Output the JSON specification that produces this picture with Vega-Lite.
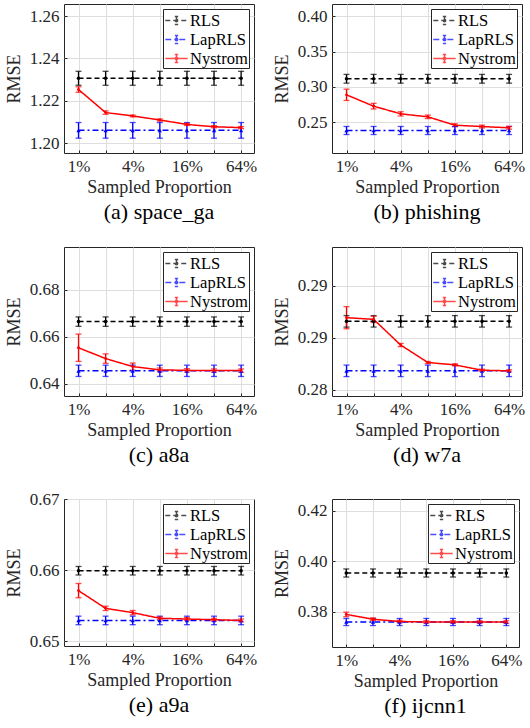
{
  "$schema": "https://vega.github.io/schema/vega-lite/v6.json",
  "padding": {"left": 4, "top": 3, "right": 4, "bottom": 2},
  "background": "white",
  "data": {"values": [
    {"panel":"a","method":"RLS","p":1,"rmse":1.2306,"lo":1.2273,"hi":1.2339},
    {"panel":"a","method":"RLS","p":2,"rmse":1.2306,"lo":1.2273,"hi":1.2339},
    {"panel":"a","method":"RLS","p":4,"rmse":1.2306,"lo":1.2273,"hi":1.2339},
    {"panel":"a","method":"RLS","p":8,"rmse":1.2306,"lo":1.2273,"hi":1.2339},
    {"panel":"a","method":"RLS","p":16,"rmse":1.2306,"lo":1.2273,"hi":1.2339},
    {"panel":"a","method":"RLS","p":32,"rmse":1.2306,"lo":1.2273,"hi":1.2339},
    {"panel":"a","method":"RLS","p":64,"rmse":1.2306,"lo":1.2273,"hi":1.2339},
    {"panel":"a","method":"LapRLS","p":1,"rmse":1.2060,"lo":1.2023,"hi":1.2097},
    {"panel":"a","method":"LapRLS","p":2,"rmse":1.2060,"lo":1.2023,"hi":1.2097},
    {"panel":"a","method":"LapRLS","p":4,"rmse":1.2060,"lo":1.2023,"hi":1.2097},
    {"panel":"a","method":"LapRLS","p":8,"rmse":1.2060,"lo":1.2023,"hi":1.2097},
    {"panel":"a","method":"LapRLS","p":16,"rmse":1.2060,"lo":1.2023,"hi":1.2097},
    {"panel":"a","method":"LapRLS","p":32,"rmse":1.2060,"lo":1.2023,"hi":1.2097},
    {"panel":"a","method":"LapRLS","p":64,"rmse":1.2060,"lo":1.2023,"hi":1.2097},
    {"panel":"a","method":"Nystrom","p":1,"rmse":1.2253,"lo":1.2240,"hi":1.2266},
    {"panel":"a","method":"Nystrom","p":2,"rmse":1.2144,"lo":1.2136,"hi":1.2152},
    {"panel":"a","method":"Nystrom","p":4,"rmse":1.2128,"lo":1.2124,"hi":1.2132},
    {"panel":"a","method":"Nystrom","p":8,"rmse":1.2109,"lo":1.2104,"hi":1.2114},
    {"panel":"a","method":"Nystrom","p":16,"rmse":1.2088,"lo":1.2083,"hi":1.2093},
    {"panel":"a","method":"Nystrom","p":32,"rmse":1.2077,"lo":1.2072,"hi":1.2082},
    {"panel":"a","method":"Nystrom","p":64,"rmse":1.2073,"lo":1.2068,"hi":1.2078},

    {"panel":"b","method":"RLS","p":1,"rmse":0.3115,"lo":0.3053,"hi":0.3177},
    {"panel":"b","method":"RLS","p":2,"rmse":0.3115,"lo":0.3053,"hi":0.3177},
    {"panel":"b","method":"RLS","p":4,"rmse":0.3115,"lo":0.3053,"hi":0.3177},
    {"panel":"b","method":"RLS","p":8,"rmse":0.3115,"lo":0.3053,"hi":0.3177},
    {"panel":"b","method":"RLS","p":16,"rmse":0.3115,"lo":0.3053,"hi":0.3177},
    {"panel":"b","method":"RLS","p":32,"rmse":0.3115,"lo":0.3053,"hi":0.3177},
    {"panel":"b","method":"RLS","p":64,"rmse":0.3115,"lo":0.3053,"hi":0.3177},
    {"panel":"b","method":"LapRLS","p":1,"rmse":0.2382,"lo":0.2325,"hi":0.2439},
    {"panel":"b","method":"LapRLS","p":2,"rmse":0.2382,"lo":0.2325,"hi":0.2439},
    {"panel":"b","method":"LapRLS","p":4,"rmse":0.2382,"lo":0.2325,"hi":0.2439},
    {"panel":"b","method":"LapRLS","p":8,"rmse":0.2382,"lo":0.2325,"hi":0.2439},
    {"panel":"b","method":"LapRLS","p":16,"rmse":0.2382,"lo":0.2325,"hi":0.2439},
    {"panel":"b","method":"LapRLS","p":32,"rmse":0.2382,"lo":0.2325,"hi":0.2439},
    {"panel":"b","method":"LapRLS","p":64,"rmse":0.2382,"lo":0.2325,"hi":0.2439},
    {"panel":"b","method":"Nystrom","p":1,"rmse":0.2888,"lo":0.2808,"hi":0.2968},
    {"panel":"b","method":"Nystrom","p":2,"rmse":0.2727,"lo":0.2687,"hi":0.2767},
    {"panel":"b","method":"Nystrom","p":4,"rmse":0.2618,"lo":0.2588,"hi":0.2648},
    {"panel":"b","method":"Nystrom","p":8,"rmse":0.2576,"lo":0.2551,"hi":0.2601},
    {"panel":"b","method":"Nystrom","p":16,"rmse":0.2457,"lo":0.2437,"hi":0.2477},
    {"panel":"b","method":"Nystrom","p":32,"rmse":0.2438,"lo":0.2418,"hi":0.2458},
    {"panel":"b","method":"Nystrom","p":64,"rmse":0.2420,"lo":0.2400,"hi":0.2440},

    {"panel":"c","method":"RLS","p":1,"rmse":0.6665,"lo":0.6645,"hi":0.6685},
    {"panel":"c","method":"RLS","p":2,"rmse":0.6665,"lo":0.6645,"hi":0.6685},
    {"panel":"c","method":"RLS","p":4,"rmse":0.6665,"lo":0.6645,"hi":0.6685},
    {"panel":"c","method":"RLS","p":8,"rmse":0.6665,"lo":0.6645,"hi":0.6685},
    {"panel":"c","method":"RLS","p":16,"rmse":0.6665,"lo":0.6645,"hi":0.6685},
    {"panel":"c","method":"RLS","p":32,"rmse":0.6665,"lo":0.6645,"hi":0.6685},
    {"panel":"c","method":"RLS","p":64,"rmse":0.6665,"lo":0.6645,"hi":0.6685},
    {"panel":"c","method":"LapRLS","p":1,"rmse":0.6456,"lo":0.6432,"hi":0.6480},
    {"panel":"c","method":"LapRLS","p":2,"rmse":0.6456,"lo":0.6432,"hi":0.6480},
    {"panel":"c","method":"LapRLS","p":4,"rmse":0.6456,"lo":0.6432,"hi":0.6480},
    {"panel":"c","method":"LapRLS","p":8,"rmse":0.6456,"lo":0.6432,"hi":0.6480},
    {"panel":"c","method":"LapRLS","p":16,"rmse":0.6456,"lo":0.6432,"hi":0.6480},
    {"panel":"c","method":"LapRLS","p":32,"rmse":0.6456,"lo":0.6432,"hi":0.6480},
    {"panel":"c","method":"LapRLS","p":64,"rmse":0.6456,"lo":0.6432,"hi":0.6480},
    {"panel":"c","method":"Nystrom","p":1,"rmse":0.6554,"lo":0.6496,"hi":0.6612},
    {"panel":"c","method":"Nystrom","p":2,"rmse":0.6508,"lo":0.6488,"hi":0.6528},
    {"panel":"c","method":"Nystrom","p":4,"rmse":0.6474,"lo":0.6459,"hi":0.6489},
    {"panel":"c","method":"Nystrom","p":8,"rmse":0.6460,"lo":0.6452,"hi":0.6468},
    {"panel":"c","method":"Nystrom","p":16,"rmse":0.6458,"lo":0.6451,"hi":0.6465},
    {"panel":"c","method":"Nystrom","p":32,"rmse":0.6457,"lo":0.6450,"hi":0.6464},
    {"panel":"c","method":"Nystrom","p":64,"rmse":0.6457,"lo":0.6450,"hi":0.6464},

    {"panel":"d","method":"RLS","p":1,"rmse":0.28657,"lo":0.28602,"hi":0.28712},
    {"panel":"d","method":"RLS","p":2,"rmse":0.28657,"lo":0.28602,"hi":0.28712},
    {"panel":"d","method":"RLS","p":4,"rmse":0.28657,"lo":0.28602,"hi":0.28712},
    {"panel":"d","method":"RLS","p":8,"rmse":0.28657,"lo":0.28602,"hi":0.28712},
    {"panel":"d","method":"RLS","p":16,"rmse":0.28657,"lo":0.28602,"hi":0.28712},
    {"panel":"d","method":"RLS","p":32,"rmse":0.28657,"lo":0.28602,"hi":0.28712},
    {"panel":"d","method":"RLS","p":64,"rmse":0.28657,"lo":0.28602,"hi":0.28712},
    {"panel":"d","method":"LapRLS","p":1,"rmse":0.28183,"lo":0.28128,"hi":0.28238},
    {"panel":"d","method":"LapRLS","p":2,"rmse":0.28183,"lo":0.28128,"hi":0.28238},
    {"panel":"d","method":"LapRLS","p":4,"rmse":0.28183,"lo":0.28128,"hi":0.28238},
    {"panel":"d","method":"LapRLS","p":8,"rmse":0.28183,"lo":0.28128,"hi":0.28238},
    {"panel":"d","method":"LapRLS","p":16,"rmse":0.28183,"lo":0.28128,"hi":0.28238},
    {"panel":"d","method":"LapRLS","p":32,"rmse":0.28183,"lo":0.28128,"hi":0.28238},
    {"panel":"d","method":"LapRLS","p":64,"rmse":0.28183,"lo":0.28128,"hi":0.28238},
    {"panel":"d","method":"Nystrom","p":1,"rmse":0.28692,"lo":0.28586,"hi":0.28798},
    {"panel":"d","method":"Nystrom","p":2,"rmse":0.28676,"lo":0.28646,"hi":0.28706},
    {"panel":"d","method":"Nystrom","p":4,"rmse":0.28430,"lo":0.28415,"hi":0.28445},
    {"panel":"d","method":"Nystrom","p":8,"rmse":0.28263,"lo":0.28253,"hi":0.28273},
    {"panel":"d","method":"Nystrom","p":16,"rmse":0.28240,"lo":0.28230,"hi":0.28250},
    {"panel":"d","method":"Nystrom","p":32,"rmse":0.28189,"lo":0.28179,"hi":0.28199},
    {"panel":"d","method":"Nystrom","p":64,"rmse":0.28183,"lo":0.28173,"hi":0.28193},

    {"panel":"e","method":"RLS","p":1,"rmse":0.6599,"lo":0.6593,"hi":0.6605},
    {"panel":"e","method":"RLS","p":2,"rmse":0.6599,"lo":0.6593,"hi":0.6605},
    {"panel":"e","method":"RLS","p":4,"rmse":0.6599,"lo":0.6593,"hi":0.6605},
    {"panel":"e","method":"RLS","p":8,"rmse":0.6599,"lo":0.6593,"hi":0.6605},
    {"panel":"e","method":"RLS","p":16,"rmse":0.6599,"lo":0.6593,"hi":0.6605},
    {"panel":"e","method":"RLS","p":32,"rmse":0.6599,"lo":0.6593,"hi":0.6605},
    {"panel":"e","method":"RLS","p":64,"rmse":0.6599,"lo":0.6593,"hi":0.6605},
    {"panel":"e","method":"LapRLS","p":1,"rmse":0.6529,"lo":0.6523,"hi":0.6535},
    {"panel":"e","method":"LapRLS","p":2,"rmse":0.6529,"lo":0.6523,"hi":0.6535},
    {"panel":"e","method":"LapRLS","p":4,"rmse":0.6529,"lo":0.6523,"hi":0.6535},
    {"panel":"e","method":"LapRLS","p":8,"rmse":0.6529,"lo":0.6523,"hi":0.6535},
    {"panel":"e","method":"LapRLS","p":16,"rmse":0.6529,"lo":0.6523,"hi":0.6535},
    {"panel":"e","method":"LapRLS","p":32,"rmse":0.6529,"lo":0.6523,"hi":0.6535},
    {"panel":"e","method":"LapRLS","p":64,"rmse":0.6529,"lo":0.6523,"hi":0.6535},
    {"panel":"e","method":"Nystrom","p":1,"rmse":0.6571,"lo":0.6561,"hi":0.6581},
    {"panel":"e","method":"Nystrom","p":2,"rmse":0.6546,"lo":0.6543,"hi":0.6549},
    {"panel":"e","method":"Nystrom","p":4,"rmse":0.6540,"lo":0.6537,"hi":0.6543},
    {"panel":"e","method":"Nystrom","p":8,"rmse":0.6532,"lo":0.6530,"hi":0.6534},
    {"panel":"e","method":"Nystrom","p":16,"rmse":0.6531,"lo":0.6529,"hi":0.6533},
    {"panel":"e","method":"Nystrom","p":32,"rmse":0.6530,"lo":0.6528,"hi":0.6532},
    {"panel":"e","method":"Nystrom","p":64,"rmse":0.6529,"lo":0.6527,"hi":0.6531},

    {"panel":"f","method":"RLS","p":1,"rmse":0.3953,"lo":0.3937,"hi":0.3969},
    {"panel":"f","method":"RLS","p":2,"rmse":0.3953,"lo":0.3937,"hi":0.3969},
    {"panel":"f","method":"RLS","p":4,"rmse":0.3953,"lo":0.3937,"hi":0.3969},
    {"panel":"f","method":"RLS","p":8,"rmse":0.3953,"lo":0.3937,"hi":0.3969},
    {"panel":"f","method":"RLS","p":16,"rmse":0.3953,"lo":0.3937,"hi":0.3969},
    {"panel":"f","method":"RLS","p":32,"rmse":0.3953,"lo":0.3937,"hi":0.3969},
    {"panel":"f","method":"RLS","p":64,"rmse":0.3953,"lo":0.3937,"hi":0.3969},
    {"panel":"f","method":"LapRLS","p":1,"rmse":0.3759,"lo":0.3745,"hi":0.3773},
    {"panel":"f","method":"LapRLS","p":2,"rmse":0.3759,"lo":0.3745,"hi":0.3773},
    {"panel":"f","method":"LapRLS","p":4,"rmse":0.3759,"lo":0.3745,"hi":0.3773},
    {"panel":"f","method":"LapRLS","p":8,"rmse":0.3759,"lo":0.3745,"hi":0.3773},
    {"panel":"f","method":"LapRLS","p":16,"rmse":0.3759,"lo":0.3745,"hi":0.3773},
    {"panel":"f","method":"LapRLS","p":32,"rmse":0.3759,"lo":0.3745,"hi":0.3773},
    {"panel":"f","method":"LapRLS","p":64,"rmse":0.3759,"lo":0.3745,"hi":0.3773},
    {"panel":"f","method":"Nystrom","p":1,"rmse":0.3789,"lo":0.3780,"hi":0.3798},
    {"panel":"f","method":"Nystrom","p":2,"rmse":0.3770,"lo":0.3765,"hi":0.3775},
    {"panel":"f","method":"Nystrom","p":4,"rmse":0.3761,"lo":0.3756,"hi":0.3766},
    {"panel":"f","method":"Nystrom","p":8,"rmse":0.3759,"lo":0.3754,"hi":0.3764},
    {"panel":"f","method":"Nystrom","p":16,"rmse":0.3759,"lo":0.3754,"hi":0.3764},
    {"panel":"f","method":"Nystrom","p":32,"rmse":0.3759,"lo":0.3754,"hi":0.3764},
    {"panel":"f","method":"Nystrom","p":64,"rmse":0.3759,"lo":0.3754,"hi":0.3764}
  ]},
  "columns": 2,
  "spacing": {"row": 22, "column": 14},
  "resolve": {
    "scale": {"x": "independent", "y": "independent", "color": "independent", "fill": "independent", "strokeDash": "independent", "shape": "independent", "size": "independent"},
    "legend": {"color": "independent", "fill": "independent", "strokeDash": "independent", "shape": "independent", "size": "independent"},
    "axis": {"x": "independent", "y": "independent"}
  },
  "concat": [
    {
      "width": 190, "height": 149,
      "title": {"text": "(a)  space_ga"},
      "transform": [{"filter": "datum.panel === 'a'"}],
      "layer": [
        {"mark": {"type": "rule", "strokeWidth": 1.3},
         "encoding": {
           "x": {"field": "p", "type": "quantitative", "scale": {"type": "log", "base": 2, "domain": [0.69, 89], "nice": false}, "axis": {"title": "Sampled Proportion", "values": [1,2,4,8,16,32,64], "labelExpr": "indexof([1,4,16,64], datum.value) >= 0 ? datum.value + '%' : ''"}},
           "y": {"field": "lo", "type": "quantitative", "scale": {"domain": [1.1953, 1.2657], "nice": false, "zero": false}, "axis": {"title": "RMSE", "values": [1.20,1.22,1.24,1.26], "format": ".2f"}},
           "y2": {"field": "hi"},
           "color": {"field": "method", "type": "nominal", "scale": {"domain": ["RLS","LapRLS","Nystrom"], "range": ["#000000","#0000ff","#ff0000"]}}}},
        {"mark": {"type": "tick", "orient": "horizontal", "size": 6, "thickness": 1.3},
         "encoding": {
           "x": {"field": "p", "type": "quantitative", "scale": {"type": "log", "base": 2, "domain": [0.69, 89], "nice": false}},
           "y": {"field": "lo", "type": "quantitative", "scale": {"domain": [1.1953, 1.2657], "nice": false, "zero": false}},
           "color": {"field": "method", "type": "nominal", "scale": {"domain": ["RLS","LapRLS","Nystrom"], "range": ["#000000","#0000ff","#ff0000"]}}}},
        {"mark": {"type": "tick", "orient": "horizontal", "size": 6, "thickness": 1.3},
         "encoding": {
           "x": {"field": "p", "type": "quantitative", "scale": {"type": "log", "base": 2, "domain": [0.69, 89], "nice": false}},
           "y": {"field": "hi", "type": "quantitative", "scale": {"domain": [1.1953, 1.2657], "nice": false, "zero": false}},
           "color": {"field": "method", "type": "nominal", "scale": {"domain": ["RLS","LapRLS","Nystrom"], "range": ["#000000","#0000ff","#ff0000"]}}}},
        {"mark": {"type": "line", "strokeWidth": 1.5},
         "encoding": {
           "x": {"field": "p", "type": "quantitative", "scale": {"type": "log", "base": 2, "domain": [0.69, 89], "nice": false}},
           "y": {"field": "rmse", "type": "quantitative", "scale": {"domain": [1.1953, 1.2657], "nice": false, "zero": false}},
           "color": {"field": "method", "type": "nominal", "scale": {"domain": ["RLS","LapRLS","Nystrom"], "range": ["#000000","#0000ff","#ff0000"]}, "legend": {"title": null, "symbolType": "M-1.15,0H1.15M0,-0.42V0.42M-0.17,-0.42H0.17M-0.17,0.42H0.17M-0.12,0A0.12,0.12 0 1,0 0.12,0A0.12,0.12 0 1,0 -0.12,0"}},
           "strokeDash": {"field": "method", "type": "nominal", "scale": {"domain": ["RLS","LapRLS","Nystrom"], "range": [[5,3],[6,3,2,3],[1,0]]}, "legend": {"title": null, "symbolType": "M-1.15,0H1.15M0,-0.42V0.42M-0.17,-0.42H0.17M-0.17,0.42H0.17M-0.12,0A0.12,0.12 0 1,0 0.12,0A0.12,0.12 0 1,0 -0.12,0"}}}},
        {"mark": {"type": "point", "filled": true, "opacity": 1, "strokeWidth": 0},
         "encoding": {
           "x": {"field": "p", "type": "quantitative", "scale": {"type": "log", "base": 2, "domain": [0.69, 89], "nice": false}},
           "y": {"field": "rmse", "type": "quantitative", "scale": {"domain": [1.1953, 1.2657], "nice": false, "zero": false}},
           "fill": {"field": "method", "type": "nominal", "scale": {"domain": ["Nystrom","LapRLS","RLS"], "range": ["#ff0000","#0000ff","#000000"]}, "legend": null},
           "shape": {"field": "method", "type": "nominal", "scale": {"domain": ["LapRLS","RLS","Nystrom"], "range": ["triangle-up","circle","circle"]}, "legend": null},
           "size": {"field": "method", "type": "nominal", "scale": {"domain": ["Nystrom","RLS","LapRLS"], "range": [8, 18, 22]}, "legend": null}}}
      ]
    },
    {
      "width": 190, "height": 149,
      "title": {"text": "(b)  phishing"},
      "transform": [{"filter": "datum.panel === 'b'"}],
      "layer": [
        {"mark": {"type": "rule", "strokeWidth": 1.3},
         "encoding": {
           "x": {"field": "p", "type": "quantitative", "scale": {"type": "log", "base": 2, "domain": [0.69, 89], "nice": false}, "axis": {"title": "Sampled Proportion", "values": [1,2,4,8,16,32,64], "labelExpr": "indexof([1,4,16,64], datum.value) >= 0 ? datum.value + '%' : ''"}},
           "y": {"field": "lo", "type": "quantitative", "scale": {"domain": [0.2063, 0.4175], "nice": false, "zero": false}, "axis": {"title": "RMSE", "values": [0.25,0.30,0.35,0.40], "format": ".2f"}},
           "y2": {"field": "hi"},
           "color": {"field": "method", "type": "nominal", "scale": {"domain": ["RLS","LapRLS","Nystrom"], "range": ["#000000","#0000ff","#ff0000"]}}}},
        {"mark": {"type": "tick", "orient": "horizontal", "size": 6, "thickness": 1.3},
         "encoding": {
           "x": {"field": "p", "type": "quantitative", "scale": {"type": "log", "base": 2, "domain": [0.69, 89], "nice": false}},
           "y": {"field": "lo", "type": "quantitative", "scale": {"domain": [0.2063, 0.4175], "nice": false, "zero": false}},
           "color": {"field": "method", "type": "nominal", "scale": {"domain": ["RLS","LapRLS","Nystrom"], "range": ["#000000","#0000ff","#ff0000"]}}}},
        {"mark": {"type": "tick", "orient": "horizontal", "size": 6, "thickness": 1.3},
         "encoding": {
           "x": {"field": "p", "type": "quantitative", "scale": {"type": "log", "base": 2, "domain": [0.69, 89], "nice": false}},
           "y": {"field": "hi", "type": "quantitative", "scale": {"domain": [0.2063, 0.4175], "nice": false, "zero": false}},
           "color": {"field": "method", "type": "nominal", "scale": {"domain": ["RLS","LapRLS","Nystrom"], "range": ["#000000","#0000ff","#ff0000"]}}}},
        {"mark": {"type": "line", "strokeWidth": 1.5},
         "encoding": {
           "x": {"field": "p", "type": "quantitative", "scale": {"type": "log", "base": 2, "domain": [0.69, 89], "nice": false}},
           "y": {"field": "rmse", "type": "quantitative", "scale": {"domain": [0.2063, 0.4175], "nice": false, "zero": false}},
           "color": {"field": "method", "type": "nominal", "scale": {"domain": ["RLS","LapRLS","Nystrom"], "range": ["#000000","#0000ff","#ff0000"]}, "legend": {"title": null, "symbolType": "M-1.15,0H1.15M0,-0.42V0.42M-0.17,-0.42H0.17M-0.17,0.42H0.17M-0.12,0A0.12,0.12 0 1,0 0.12,0A0.12,0.12 0 1,0 -0.12,0"}},
           "strokeDash": {"field": "method", "type": "nominal", "scale": {"domain": ["RLS","LapRLS","Nystrom"], "range": [[5,3],[6,3,2,3],[1,0]]}, "legend": {"title": null, "symbolType": "M-1.15,0H1.15M0,-0.42V0.42M-0.17,-0.42H0.17M-0.17,0.42H0.17M-0.12,0A0.12,0.12 0 1,0 0.12,0A0.12,0.12 0 1,0 -0.12,0"}}}},
        {"mark": {"type": "point", "filled": true, "opacity": 1, "strokeWidth": 0},
         "encoding": {
           "x": {"field": "p", "type": "quantitative", "scale": {"type": "log", "base": 2, "domain": [0.69, 89], "nice": false}},
           "y": {"field": "rmse", "type": "quantitative", "scale": {"domain": [0.2063, 0.4175], "nice": false, "zero": false}},
           "fill": {"field": "method", "type": "nominal", "scale": {"domain": ["Nystrom","LapRLS","RLS"], "range": ["#ff0000","#0000ff","#000000"]}, "legend": null},
           "shape": {"field": "method", "type": "nominal", "scale": {"domain": ["LapRLS","RLS","Nystrom"], "range": ["triangle-up","circle","circle"]}, "legend": null},
           "size": {"field": "method", "type": "nominal", "scale": {"domain": ["Nystrom","RLS","LapRLS"], "range": [8, 18, 22]}, "legend": null}}}
      ]
    },
    {
      "width": 190, "height": 149,
      "title": {"text": "(c)  a8a"},
      "transform": [{"filter": "datum.panel === 'c'"}],
      "layer": [
        {"mark": {"type": "rule", "strokeWidth": 1.3},
         "encoding": {
           "x": {"field": "p", "type": "quantitative", "scale": {"type": "log", "base": 2, "domain": [0.69, 89], "nice": false}, "axis": {"title": "Sampled Proportion", "values": [1,2,4,8,16,32,64], "labelExpr": "indexof([1,4,16,64], datum.value) >= 0 ? datum.value + '%' : ''"}},
           "y": {"field": "lo", "type": "quantitative", "scale": {"domain": [0.6349, 0.6982], "nice": false, "zero": false}, "axis": {"title": "RMSE", "values": [0.64,0.66,0.68], "format": ".2f"}},
           "y2": {"field": "hi"},
           "color": {"field": "method", "type": "nominal", "scale": {"domain": ["RLS","LapRLS","Nystrom"], "range": ["#000000","#0000ff","#ff0000"]}}}},
        {"mark": {"type": "tick", "orient": "horizontal", "size": 6, "thickness": 1.3},
         "encoding": {
           "x": {"field": "p", "type": "quantitative", "scale": {"type": "log", "base": 2, "domain": [0.69, 89], "nice": false}},
           "y": {"field": "lo", "type": "quantitative", "scale": {"domain": [0.6349, 0.6982], "nice": false, "zero": false}},
           "color": {"field": "method", "type": "nominal", "scale": {"domain": ["RLS","LapRLS","Nystrom"], "range": ["#000000","#0000ff","#ff0000"]}}}},
        {"mark": {"type": "tick", "orient": "horizontal", "size": 6, "thickness": 1.3},
         "encoding": {
           "x": {"field": "p", "type": "quantitative", "scale": {"type": "log", "base": 2, "domain": [0.69, 89], "nice": false}},
           "y": {"field": "hi", "type": "quantitative", "scale": {"domain": [0.6349, 0.6982], "nice": false, "zero": false}},
           "color": {"field": "method", "type": "nominal", "scale": {"domain": ["RLS","LapRLS","Nystrom"], "range": ["#000000","#0000ff","#ff0000"]}}}},
        {"mark": {"type": "line", "strokeWidth": 1.5},
         "encoding": {
           "x": {"field": "p", "type": "quantitative", "scale": {"type": "log", "base": 2, "domain": [0.69, 89], "nice": false}},
           "y": {"field": "rmse", "type": "quantitative", "scale": {"domain": [0.6349, 0.6982], "nice": false, "zero": false}},
           "color": {"field": "method", "type": "nominal", "scale": {"domain": ["RLS","LapRLS","Nystrom"], "range": ["#000000","#0000ff","#ff0000"]}, "legend": {"title": null, "symbolType": "M-1.15,0H1.15M0,-0.42V0.42M-0.17,-0.42H0.17M-0.17,0.42H0.17M-0.12,0A0.12,0.12 0 1,0 0.12,0A0.12,0.12 0 1,0 -0.12,0"}},
           "strokeDash": {"field": "method", "type": "nominal", "scale": {"domain": ["RLS","LapRLS","Nystrom"], "range": [[5,3],[6,3,2,3],[1,0]]}, "legend": {"title": null, "symbolType": "M-1.15,0H1.15M0,-0.42V0.42M-0.17,-0.42H0.17M-0.17,0.42H0.17M-0.12,0A0.12,0.12 0 1,0 0.12,0A0.12,0.12 0 1,0 -0.12,0"}}}},
        {"mark": {"type": "point", "filled": true, "opacity": 1, "strokeWidth": 0},
         "encoding": {
           "x": {"field": "p", "type": "quantitative", "scale": {"type": "log", "base": 2, "domain": [0.69, 89], "nice": false}},
           "y": {"field": "rmse", "type": "quantitative", "scale": {"domain": [0.6349, 0.6982], "nice": false, "zero": false}},
           "fill": {"field": "method", "type": "nominal", "scale": {"domain": ["Nystrom","LapRLS","RLS"], "range": ["#ff0000","#0000ff","#000000"]}, "legend": null},
           "shape": {"field": "method", "type": "nominal", "scale": {"domain": ["LapRLS","RLS","Nystrom"], "range": ["triangle-up","circle","circle"]}, "legend": null},
           "size": {"field": "method", "type": "nominal", "scale": {"domain": ["Nystrom","RLS","LapRLS"], "range": [8, 18, 22]}, "legend": null}}}
      ]
    },
    {
      "width": 190, "height": 149,
      "title": {"text": "(d)  w7a"},
      "transform": [{"filter": "datum.panel === 'd'"}],
      "layer": [
        {"mark": {"type": "rule", "strokeWidth": 1.3},
         "encoding": {
           "x": {"field": "p", "type": "quantitative", "scale": {"type": "log", "base": 2, "domain": [0.69, 89], "nice": false}, "axis": {"title": "Sampled Proportion", "values": [1,2,4,8,16,32,64], "labelExpr": "indexof([1,4,16,64], datum.value) >= 0 ? datum.value + '%' : ''"}},
           "y": {"field": "lo", "type": "quantitative", "scale": {"domain": [0.27942, 0.29369], "nice": false, "zero": false}, "axis": {"title": "RMSE", "values": [0.28,0.285,0.29], "labelExpr": "format(datum.value + 0.000001, '.2f')"}},
           "y2": {"field": "hi"},
           "color": {"field": "method", "type": "nominal", "scale": {"domain": ["RLS","LapRLS","Nystrom"], "range": ["#000000","#0000ff","#ff0000"]}}}},
        {"mark": {"type": "tick", "orient": "horizontal", "size": 6, "thickness": 1.3},
         "encoding": {
           "x": {"field": "p", "type": "quantitative", "scale": {"type": "log", "base": 2, "domain": [0.69, 89], "nice": false}},
           "y": {"field": "lo", "type": "quantitative", "scale": {"domain": [0.27942, 0.29369], "nice": false, "zero": false}},
           "color": {"field": "method", "type": "nominal", "scale": {"domain": ["RLS","LapRLS","Nystrom"], "range": ["#000000","#0000ff","#ff0000"]}}}},
        {"mark": {"type": "tick", "orient": "horizontal", "size": 6, "thickness": 1.3},
         "encoding": {
           "x": {"field": "p", "type": "quantitative", "scale": {"type": "log", "base": 2, "domain": [0.69, 89], "nice": false}},
           "y": {"field": "hi", "type": "quantitative", "scale": {"domain": [0.27942, 0.29369], "nice": false, "zero": false}},
           "color": {"field": "method", "type": "nominal", "scale": {"domain": ["RLS","LapRLS","Nystrom"], "range": ["#000000","#0000ff","#ff0000"]}}}},
        {"mark": {"type": "line", "strokeWidth": 1.5},
         "encoding": {
           "x": {"field": "p", "type": "quantitative", "scale": {"type": "log", "base": 2, "domain": [0.69, 89], "nice": false}},
           "y": {"field": "rmse", "type": "quantitative", "scale": {"domain": [0.27942, 0.29369], "nice": false, "zero": false}},
           "color": {"field": "method", "type": "nominal", "scale": {"domain": ["RLS","LapRLS","Nystrom"], "range": ["#000000","#0000ff","#ff0000"]}, "legend": {"title": null, "symbolType": "M-1.15,0H1.15M0,-0.42V0.42M-0.17,-0.42H0.17M-0.17,0.42H0.17M-0.12,0A0.12,0.12 0 1,0 0.12,0A0.12,0.12 0 1,0 -0.12,0"}},
           "strokeDash": {"field": "method", "type": "nominal", "scale": {"domain": ["RLS","LapRLS","Nystrom"], "range": [[5,3],[6,3,2,3],[1,0]]}, "legend": {"title": null, "symbolType": "M-1.15,0H1.15M0,-0.42V0.42M-0.17,-0.42H0.17M-0.17,0.42H0.17M-0.12,0A0.12,0.12 0 1,0 0.12,0A0.12,0.12 0 1,0 -0.12,0"}}}},
        {"mark": {"type": "point", "filled": true, "opacity": 1, "strokeWidth": 0},
         "encoding": {
           "x": {"field": "p", "type": "quantitative", "scale": {"type": "log", "base": 2, "domain": [0.69, 89], "nice": false}},
           "y": {"field": "rmse", "type": "quantitative", "scale": {"domain": [0.27942, 0.29369], "nice": false, "zero": false}},
           "fill": {"field": "method", "type": "nominal", "scale": {"domain": ["Nystrom","LapRLS","RLS"], "range": ["#ff0000","#0000ff","#000000"]}, "legend": null},
           "shape": {"field": "method", "type": "nominal", "scale": {"domain": ["LapRLS","RLS","Nystrom"], "range": ["triangle-up","circle","circle"]}, "legend": null},
           "size": {"field": "method", "type": "nominal", "scale": {"domain": ["Nystrom","RLS","LapRLS"], "range": [8, 18, 22]}, "legend": null}}}
      ]
    },
    {
      "width": 190, "height": 147,
      "title": {"text": "(e)  a9a"},
      "transform": [{"filter": "datum.panel === 'e'"}],
      "layer": [
        {"mark": {"type": "rule", "strokeWidth": 1.3},
         "encoding": {
           "x": {"field": "p", "type": "quantitative", "scale": {"type": "log", "base": 2, "domain": [0.69, 89], "nice": false}, "axis": {"title": "Sampled Proportion", "values": [1,2,4,8,16,32,64], "labelExpr": "indexof([1,4,16,64], datum.value) >= 0 ? datum.value + '%' : ''"}},
           "y": {"field": "lo", "type": "quantitative", "scale": {"domain": [0.6493, 0.6700], "nice": false, "zero": false}, "axis": {"title": "RMSE", "values": [0.65,0.66,0.67], "format": ".2f"}},
           "y2": {"field": "hi"},
           "color": {"field": "method", "type": "nominal", "scale": {"domain": ["RLS","LapRLS","Nystrom"], "range": ["#000000","#0000ff","#ff0000"]}}}},
        {"mark": {"type": "tick", "orient": "horizontal", "size": 6, "thickness": 1.3},
         "encoding": {
           "x": {"field": "p", "type": "quantitative", "scale": {"type": "log", "base": 2, "domain": [0.69, 89], "nice": false}},
           "y": {"field": "lo", "type": "quantitative", "scale": {"domain": [0.6493, 0.6700], "nice": false, "zero": false}},
           "color": {"field": "method", "type": "nominal", "scale": {"domain": ["RLS","LapRLS","Nystrom"], "range": ["#000000","#0000ff","#ff0000"]}}}},
        {"mark": {"type": "tick", "orient": "horizontal", "size": 6, "thickness": 1.3},
         "encoding": {
           "x": {"field": "p", "type": "quantitative", "scale": {"type": "log", "base": 2, "domain": [0.69, 89], "nice": false}},
           "y": {"field": "hi", "type": "quantitative", "scale": {"domain": [0.6493, 0.6700], "nice": false, "zero": false}},
           "color": {"field": "method", "type": "nominal", "scale": {"domain": ["RLS","LapRLS","Nystrom"], "range": ["#000000","#0000ff","#ff0000"]}}}},
        {"mark": {"type": "line", "strokeWidth": 1.5},
         "encoding": {
           "x": {"field": "p", "type": "quantitative", "scale": {"type": "log", "base": 2, "domain": [0.69, 89], "nice": false}},
           "y": {"field": "rmse", "type": "quantitative", "scale": {"domain": [0.6493, 0.6700], "nice": false, "zero": false}},
           "color": {"field": "method", "type": "nominal", "scale": {"domain": ["RLS","LapRLS","Nystrom"], "range": ["#000000","#0000ff","#ff0000"]}, "legend": {"title": null, "symbolType": "M-1.15,0H1.15M0,-0.42V0.42M-0.17,-0.42H0.17M-0.17,0.42H0.17M-0.12,0A0.12,0.12 0 1,0 0.12,0A0.12,0.12 0 1,0 -0.12,0"}},
           "strokeDash": {"field": "method", "type": "nominal", "scale": {"domain": ["RLS","LapRLS","Nystrom"], "range": [[5,3],[6,3,2,3],[1,0]]}, "legend": {"title": null, "symbolType": "M-1.15,0H1.15M0,-0.42V0.42M-0.17,-0.42H0.17M-0.17,0.42H0.17M-0.12,0A0.12,0.12 0 1,0 0.12,0A0.12,0.12 0 1,0 -0.12,0"}}}},
        {"mark": {"type": "point", "filled": true, "opacity": 1, "strokeWidth": 0},
         "encoding": {
           "x": {"field": "p", "type": "quantitative", "scale": {"type": "log", "base": 2, "domain": [0.69, 89], "nice": false}},
           "y": {"field": "rmse", "type": "quantitative", "scale": {"domain": [0.6493, 0.6700], "nice": false, "zero": false}},
           "fill": {"field": "method", "type": "nominal", "scale": {"domain": ["Nystrom","LapRLS","RLS"], "range": ["#ff0000","#0000ff","#000000"]}, "legend": null},
           "shape": {"field": "method", "type": "nominal", "scale": {"domain": ["LapRLS","RLS","Nystrom"], "range": ["triangle-up","circle","circle"]}, "legend": null},
           "size": {"field": "method", "type": "nominal", "scale": {"domain": ["Nystrom","RLS","LapRLS"], "range": [8, 18, 22]}, "legend": null}}}
      ]
    },
    {
      "width": 187, "height": 148,
      "title": {"text": "(f)  ijcnn1"},
      "transform": [{"filter": "datum.panel === 'f'"}],
      "layer": [
        {"mark": {"type": "rule", "strokeWidth": 1.3},
         "encoding": {
           "x": {"field": "p", "type": "quantitative", "scale": {"type": "log", "base": 2, "domain": [0.69, 89], "nice": false}, "axis": {"title": "Sampled Proportion", "values": [1,2,4,8,16,32,64], "labelExpr": "indexof([1,4,16,64], datum.value) >= 0 ? datum.value + '%' : ''"}},
           "y": {"field": "lo", "type": "quantitative", "scale": {"domain": [0.366, 0.4246], "nice": false, "zero": false}, "axis": {"title": "RMSE", "values": [0.38,0.40,0.42], "format": ".2f"}},
           "y2": {"field": "hi"},
           "color": {"field": "method", "type": "nominal", "scale": {"domain": ["RLS","LapRLS","Nystrom"], "range": ["#000000","#0000ff","#ff0000"]}}}},
        {"mark": {"type": "tick", "orient": "horizontal", "size": 6, "thickness": 1.3},
         "encoding": {
           "x": {"field": "p", "type": "quantitative", "scale": {"type": "log", "base": 2, "domain": [0.69, 89], "nice": false}},
           "y": {"field": "lo", "type": "quantitative", "scale": {"domain": [0.366, 0.4246], "nice": false, "zero": false}},
           "color": {"field": "method", "type": "nominal", "scale": {"domain": ["RLS","LapRLS","Nystrom"], "range": ["#000000","#0000ff","#ff0000"]}}}},
        {"mark": {"type": "tick", "orient": "horizontal", "size": 6, "thickness": 1.3},
         "encoding": {
           "x": {"field": "p", "type": "quantitative", "scale": {"type": "log", "base": 2, "domain": [0.69, 89], "nice": false}},
           "y": {"field": "hi", "type": "quantitative", "scale": {"domain": [0.366, 0.4246], "nice": false, "zero": false}},
           "color": {"field": "method", "type": "nominal", "scale": {"domain": ["RLS","LapRLS","Nystrom"], "range": ["#000000","#0000ff","#ff0000"]}}}},
        {"mark": {"type": "line", "strokeWidth": 1.5},
         "encoding": {
           "x": {"field": "p", "type": "quantitative", "scale": {"type": "log", "base": 2, "domain": [0.69, 89], "nice": false}},
           "y": {"field": "rmse", "type": "quantitative", "scale": {"domain": [0.366, 0.4246], "nice": false, "zero": false}},
           "color": {"field": "method", "type": "nominal", "scale": {"domain": ["RLS","LapRLS","Nystrom"], "range": ["#000000","#0000ff","#ff0000"]}, "legend": {"title": null, "symbolType": "M-1.15,0H1.15M0,-0.42V0.42M-0.17,-0.42H0.17M-0.17,0.42H0.17M-0.12,0A0.12,0.12 0 1,0 0.12,0A0.12,0.12 0 1,0 -0.12,0"}},
           "strokeDash": {"field": "method", "type": "nominal", "scale": {"domain": ["RLS","LapRLS","Nystrom"], "range": [[5,3],[6,3,2,3],[1,0]]}, "legend": {"title": null, "symbolType": "M-1.15,0H1.15M0,-0.42V0.42M-0.17,-0.42H0.17M-0.17,0.42H0.17M-0.12,0A0.12,0.12 0 1,0 0.12,0A0.12,0.12 0 1,0 -0.12,0"}}}},
        {"mark": {"type": "point", "filled": true, "opacity": 1, "strokeWidth": 0},
         "encoding": {
           "x": {"field": "p", "type": "quantitative", "scale": {"type": "log", "base": 2, "domain": [0.69, 89], "nice": false}},
           "y": {"field": "rmse", "type": "quantitative", "scale": {"domain": [0.366, 0.4246], "nice": false, "zero": false}},
           "fill": {"field": "method", "type": "nominal", "scale": {"domain": ["Nystrom","LapRLS","RLS"], "range": ["#ff0000","#0000ff","#000000"]}, "legend": null},
           "shape": {"field": "method", "type": "nominal", "scale": {"domain": ["LapRLS","RLS","Nystrom"], "range": ["triangle-up","circle","circle"]}, "legend": null},
           "size": {"field": "method", "type": "nominal", "scale": {"domain": ["Nystrom","RLS","LapRLS"], "range": [8, 18, 22]}, "legend": null}}}
      ]
    }
  ],
  "config": {
    "font": "Liberation Serif",
    "view": {"stroke": "#262626", "strokeWidth": 1},
    "style": {
      "guide-label": {"font": "Liberation Serif", "fontSize": 17, "fill": "#262626"},
      "guide-title": {"font": "Liberation Serif", "fontSize": 18, "fontWeight": "normal", "fill": "#262626"}
    },
    "axis": {
      "labelFont": "Liberation Serif", "labelFontSize": 17, "labelColor": "#262626",
      "titleFont": "Liberation Serif", "titleFontSize": 18, "titleFontWeight": "normal", "titleColor": "#262626",
      "gridColor": "#dedede", "gridWidth": 1, "domain": false,
      "ticks": true, "tickSize": -3, "tickColor": "#262626", "tickWidth": 1, "labelPadding": 8
    },
    "axisX": {"titlePadding": 4},
    "axisY": {"titlePadding": 6},
    "title": {"font": "Liberation Serif", "fontSize": 22, "fontWeight": "normal", "color": "#000000", "orient": "bottom", "offset": 6},
    "legend": {
      "orient": "top-right", "offset": 5, "strokeColor": "#262626", "fillColor": "white",
      "padding": 1, "rowPadding": 0, "labelFont": "Liberation Serif", "labelFontSize": 16.5, "labelColor": "#000000",
      "symbolSize": 380, "symbolStrokeWidth": 1.5, "symbolFillColor": "transparent",
      "symbolOffset": 2, "labelOffset": 3, "titlePadding": 0
    }
  }
}
